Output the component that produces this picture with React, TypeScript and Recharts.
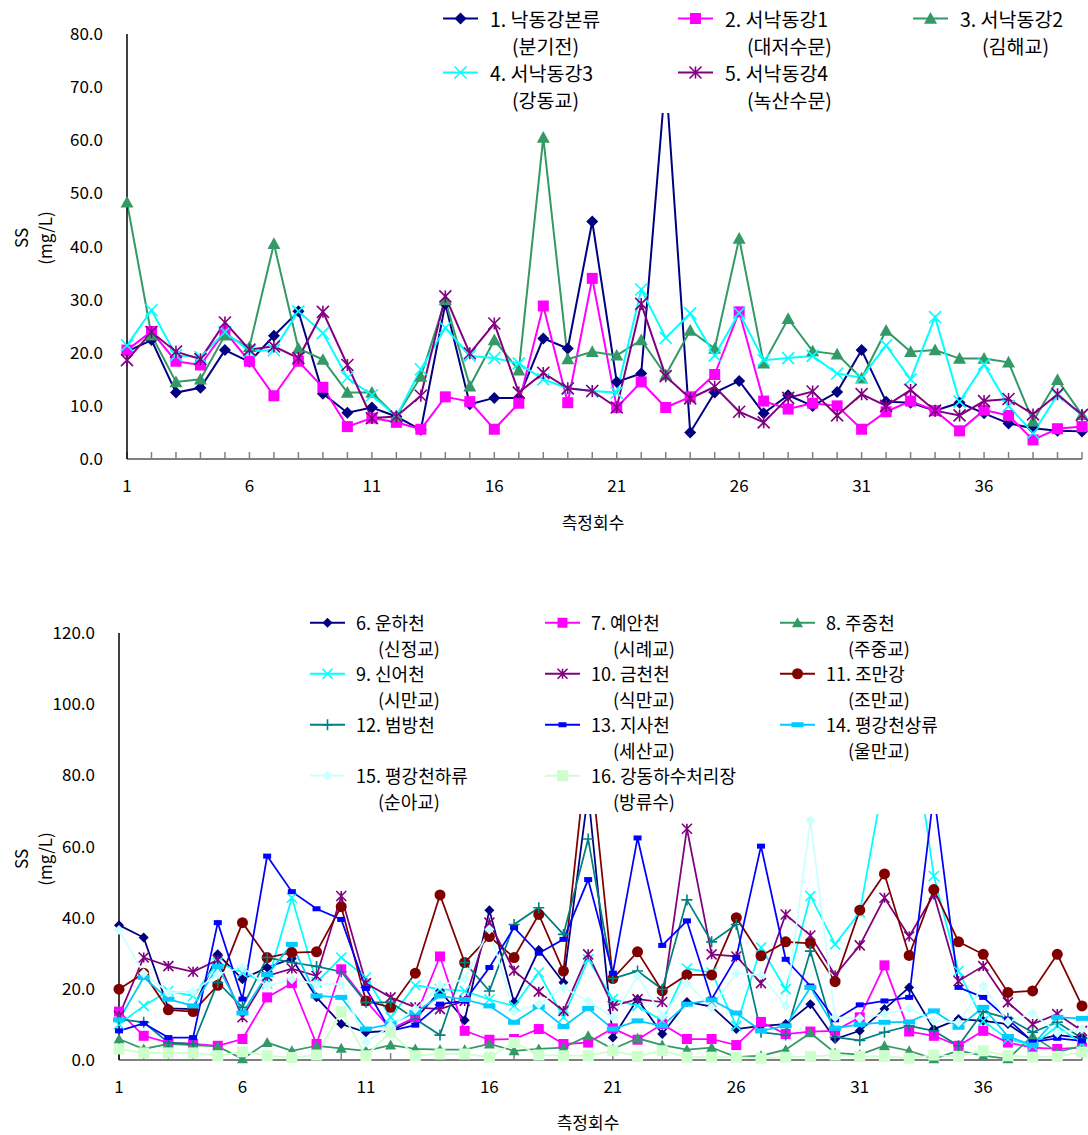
import React from 'react';
import { LineChart, Line, XAxis, YAxis, Legend } from 'recharts';

const FONT = '"Noto Sans CJK KR", "Noto Sans", sans-serif';

// 측정회수 (x categories)
const runs = [
  1, 2, 3, 4, 5, 6, 7, 8, 9, 10, 11, 12, 13, 14, 15, 16, 17, 18, 19, 20,
  21, 22, 23, 24, 25, 26, 27, 28, 29, 30, 31, 32, 33, 34, 35, 36, 37, 38, 39, 40,
];

const topTicks = [0, 10, 20, 30, 40, 50, 60, 70, 80];
const bottomTicks = [0, 20, 40, 60, 80, 100, 120];

// upper panel: 낙동강 / 서낙동강 (SS, mg/L)
const nakdongBongi = [
  20.2, 22.4, 12.5, 13.4, 20.5, 18.3, 23.2, 27.8, 12.3, 8.7,
  9.7, 8.0, 5.5, 29.2, 10.3, 11.5, 11.5, 22.7, 20.8, 44.7,
  14.5, 16.1, 72.0, 5.0, 12.5, 14.7, 8.6, 12.0, 10.0, 12.6,
  20.5, 10.8, 10.6, 9.1, 10.6, 8.6, 6.7, 5.8, 5.3, 5.2,
];
const seonakDaejeo = [
  20.5, 24.0, 18.4, 17.7, 24.0, 18.4, 11.9, 18.4, 13.5, 6.1,
  7.7, 6.9, 5.6, 11.7, 10.8, 5.6, 10.5, 28.8, 10.6, 34.0,
  9.7, 14.5, 9.7, 11.7, 15.9, 27.7, 10.9, 9.4, 10.5, 10.0,
  5.6, 8.9, 10.9, 9.1, 5.3, 9.2, 8.2, 3.6, 5.7, 6.1,
];
const seonakGimhae = [
  48.3, 23.3, 14.5, 15.0, 23.3, 21.1, 40.5, 20.8, 18.7, 12.5,
  12.5, 8.0, 15.5, 29.9, 13.7, 22.4, 16.7, 60.5, 18.8, 20.2,
  19.5, 22.4, 15.8, 24.2, 20.8, 41.5, 18.0, 26.4, 20.3, 19.7,
  15.2, 24.2, 20.2, 20.5, 18.9, 18.9, 18.2, 7.1, 14.9, 8.3,
];
const seonakGangdong = [
  21.4, 28.0, 19.5, 19.2, 23.9, 20.3, 20.5, 27.8, 23.7, 15.3,
  12.0, 8.0, 16.9, 24.7, 19.4, 19.0, 18.0, 15.0, 13.3, 12.8,
  12.5, 31.9, 22.8, 27.4, 19.5, 27.5, 18.6, 19.0, 19.4, 16.1,
  15.3, 21.4, 15.0, 26.7, 10.8, 17.8, 10.0, 4.9, 12.0, 8.3,
];
const seonakNoksan = [
  18.6, 23.9, 20.2, 18.8, 25.7, 20.6, 21.2, 19.0, 27.7, 17.7,
  7.7, 8.0, 11.9, 30.6, 19.9, 25.5, 12.5, 16.2, 13.3, 12.8,
  9.7, 29.2, 15.6, 11.4, 13.6, 8.9, 6.9, 11.5, 12.7, 8.2,
  12.2, 10.0, 13.0, 9.1, 8.2, 10.9, 11.3, 8.4, 12.2, 8.3,
];

// lower panel: 지류 및 처리장 (SS, mg/L)
const unhacheon = [
  37.9, 34.4, 14.5, 14.3, 29.7, 22.7, 26.0, 28.5, 17.6, 10.1,
  7.8, 8.2, 11.5, 19.4, 11.2, 42.1, 16.2, 30.9, 21.8, 75.0,
  6.3, 17.1, 7.3, 16.3, 15.0, 8.7, 9.6, 10.1, 15.7, 5.9,
  8.2, 14.3, 20.4, 8.7, 11.5, 11.0, 10.1, 5.4, 7.0, 6.3,
];
const yeancheon = [
  13.6, 6.8, 4.9, 4.5, 4.0, 5.9, 17.6, 21.6, 4.5, 25.5,
  16.6, 8.7, 12.0, 29.1, 8.2, 5.7, 5.9, 8.7, 4.5, 4.9,
  8.9, 5.7, 10.1, 5.9, 5.9, 4.2, 10.7, 7.3, 8.0, 8.2,
  12.0, 26.6, 8.0, 6.8, 4.0, 8.2, 4.9, 3.5, 3.1, 3.5,
];
const jujungcheon = [
  5.9, 3.1, 4.5, 4.2, 3.8, 0.3, 4.9, 2.6, 4.0, 3.3,
  2.6, 4.2, 3.1, 2.9, 2.9, 4.5, 2.6, 3.1, 3.5, 6.8,
  3.1, 6.1, 4.2, 2.9, 3.5, 0.8, 1.2, 2.9, 7.6, 2.0,
  1.5, 4.0, 2.6, 0.3, 2.6, 1.2, 0.3, 6.8, 2.2, 4.0,
];
const sineocheon = [
  10.0, 15.2, 19.4, 18.0, 27.4, 24.6, 21.5, 45.6, 21.8, 28.8,
  23.2, 12.0, 21.0, 19.9, 19.4, 17.0, 15.2, 24.6, 12.0, 28.3,
  17.1, 15.2, 11.0, 25.7, 24.6, 9.6, 31.6, 19.9, 46.1, 32.5,
  41.5, 80.0, 100.0, 51.7, 25.0, 11.0, 5.9, 4.0, 9.6, 4.5,
];
const geumcheoncheon = [
  12.4, 28.8, 26.4, 24.8, 28.1, 12.0, 23.6, 25.7, 23.6, 46.1,
  21.6, 17.6, 14.8, 14.3, 16.6, 38.6, 25.1, 19.2, 13.8, 29.7,
  15.2, 17.1, 16.3, 65.0, 29.7, 29.1, 21.6, 40.9, 35.0, 23.8,
  32.2, 45.6, 34.7, 46.5, 22.2, 26.4, 16.2, 10.1, 12.9, 8.2,
];
const jomangang = [
  19.9, 24.4, 14.1, 13.6, 21.0, 38.6, 28.8, 30.2, 30.4, 43.1,
  16.6, 14.8, 24.4, 46.4, 27.4, 34.7, 28.8, 40.9, 25.0, 90.0,
  22.9, 30.4, 19.4, 23.9, 23.9, 40.0, 29.3, 33.2, 32.8, 22.0,
  42.1, 52.3, 29.4, 47.9, 33.2, 29.7, 19.0, 19.4, 29.7, 15.2,
];
const beombangcheon = [
  11.5, 10.6, 4.9, 4.5, 21.8, 14.8, 28.8, 27.4, 26.3, 24.8,
  16.2, 16.2, 11.5, 7.0, 27.4, 19.4, 38.1, 42.8, 35.3, 62.1,
  22.9, 25.0, 19.9, 45.0, 33.2, 38.1, 7.8, 7.0, 30.6, 6.4,
  5.5, 7.8, 9.6, 8.2, 4.0, 13.6, 11.7, 7.8, 10.6, 6.1,
];
const jisacheon = [
  8.2, 10.3, 6.3, 6.3, 38.6, 17.1, 57.3, 47.3, 42.5, 39.5,
  20.1, 8.2, 9.8, 15.7, 16.6, 26.0, 37.2, 30.0, 33.9, 50.7,
  24.4, 62.4, 32.2, 39.1, 17.1, 28.8, 60.1, 28.3, 20.8, 11.3,
  15.5, 16.6, 17.6, 75.0, 20.4, 17.6, 11.5, 5.1, 6.1, 5.4,
];
const pyeonggangUpper = [
  11.3, 23.2, 17.1, 15.2, 26.3, 13.2, 24.0, 32.5, 18.0, 17.6,
  8.7, 10.1, 13.4, 18.0, 17.0, 15.2, 10.6, 15.0, 9.4, 14.5,
  8.7, 11.0, 9.6, 15.7, 16.9, 13.2, 8.2, 9.6, 20.4, 8.9,
  10.0, 10.6, 10.7, 13.8, 9.2, 14.8, 6.6, 4.2, 12.0, 11.7,
];
const pyeonggangLower = [
  36.5, 24.4, 19.0, 19.2, 24.1, 26.0, 20.8, 22.7, 21.3, 21.3,
  4.9, 9.6, 14.3, 21.0, 22.7, 36.7, 13.6, 15.7, 20.4, 16.6,
  12.0, 23.6, 12.4, 21.6, 14.8, 24.4, 23.8, 15.2, 67.3, 12.0,
  11.7, 12.9, 14.5, 11.0, 10.6, 20.8, 10.7, 13.2, 7.6, 8.7,
];
const gangdongSewage = [
  3.1, 2.0, 2.0, 2.0, 1.2, 2.3, 1.2, 0.7, 1.4, 13.6,
  1.2, 7.8, 1.2, 1.7, 1.7, 0.8, 4.9, 1.4, 1.2, 1.2,
  2.6, 1.0, 2.6, 0.8, 0.8, 0.8, 0.5, 0.8, 1.0, 1.4,
  1.0, 1.0, 0.5, 1.4, 1.0, 2.6, 1.2, 0.8, 1.0, 2.2,
];

type Shape = 'diamond' | 'square' | 'triangle' | 'cross' | 'star' | 'circle' | 'plus' | 'bar';

interface SeriesDef {
  key: string;
  name: string;
  sub?: string;
  color: string;
  shape: Shape;
  size: number;
  data: number[];
}

const topSeries: SeriesDef[] = [
  { key: 's1', name: '1. 낙동강본류', sub: '(분기전)', color: '#000080', shape: 'diamond', size: 6, data: nakdongBongi },
  { key: 's2', name: '2. 서낙동강1', sub: '(대저수문)', color: '#FF00FF', shape: 'square', size: 5.5, data: seonakDaejeo },
  { key: 's3', name: '3. 서낙동강2', sub: '(김해교)', color: '#339966', shape: 'triangle', size: 6.5, data: seonakGimhae },
  { key: 's4', name: '4. 서낙동강3', sub: '(강동교)', color: '#00FFFF', shape: 'cross', size: 6, data: seonakGangdong },
  { key: 's5', name: '5. 서낙동강4', sub: '(녹산수문)', color: '#800080', shape: 'star', size: 6, data: seonakNoksan },
];

const bottomSeries: SeriesDef[] = [
  { key: 's6', name: '6. 운하천', sub: '(신정교)', color: '#000080', shape: 'diamond', size: 5, data: unhacheon },
  { key: 's7', name: '7. 예안천', sub: '(시례교)', color: '#FF00FF', shape: 'square', size: 5, data: yeancheon },
  { key: 's8', name: '8. 주중천', sub: '(주중교)', color: '#339966', shape: 'triangle', size: 5.5, data: jujungcheon },
  { key: 's9', name: '9. 신어천', sub: '(시만교)', color: '#00FFFF', shape: 'cross', size: 5, data: sineocheon },
  { key: 's10', name: '10. 금천천', sub: '(식만교)', color: '#800080', shape: 'star', size: 5, data: geumcheoncheon },
  { key: 's11', name: '11. 조만강', sub: '(조만교)', color: '#800000', shape: 'circle', size: 5.5, data: jomangang },
  { key: 's12', name: '12. 범방천', color: '#008080', shape: 'plus', size: 5.5, data: beombangcheon },
  { key: 's13', name: '13. 지사천', sub: '(세산교)', color: '#0000FF', shape: 'bar', size: 4, data: jisacheon },
  { key: 's14', name: '14. 평강천상류', sub: '(울만교)', color: '#00CCFF', shape: 'bar', size: 6, data: pyeonggangUpper },
  { key: 's15', name: '15. 평강천하류', sub: '(순아교)', color: '#CCFFFF', shape: 'diamond', size: 5, data: pyeonggangLower },
  { key: 's16', name: '16. 강동하수처리장', sub: '(방류수)', color: '#CCFFCC', shape: 'square', size: 5.5, data: gangdongSewage },
];

function marker(shape: Shape, color: string, x: number, y: number, s: number, key?: React.Key) {
  switch (shape) {
    case 'diamond':
      return <polygon key={key} points={`${x},${y - s} ${x + s},${y} ${x},${y + s} ${x - s},${y}`} fill={color} />;
    case 'square':
      return <rect key={key} x={x - s} y={y - s} width={2 * s} height={2 * s} fill={color} />;
    case 'triangle':
      return <polygon key={key} points={`${x},${y - s} ${x + s},${y + s * 0.8} ${x - s},${y + s * 0.8}`} fill={color} />;
    case 'cross':
      return (
        <path key={key} d={`M${x - s},${y - s}L${x + s},${y + s}M${x - s},${y + s}L${x + s},${y - s}`}
          stroke={color} strokeWidth={1.6} fill="none" />
      );
    case 'star':
      return (
        <path key={key}
          d={`M${x - s},${y - s}L${x + s},${y + s}M${x - s},${y + s}L${x + s},${y - s}M${x},${y - s}L${x},${y + s}`}
          stroke={color} strokeWidth={1.6} fill="none" />
      );
    case 'circle':
      return <circle key={key} cx={x} cy={y} r={s} fill={color} />;
    case 'plus':
      return (
        <path key={key} d={`M${x - s},${y}L${x + s},${y}M${x},${y - s}L${x},${y + s}`}
          stroke={color} strokeWidth={1.6} fill="none" />
      );
    case 'bar':
      return <rect key={key} x={x - s} y={y - 2.5} width={2 * s} height={5} fill={color} />;
  }
}

function LegendBox({ items, iconW, lineH, indent, fontSize }: {
  items: SeriesDef[]; iconW: number; lineH: number; indent: number; fontSize: number;
}) {
  return (
    <div
      style={{
        display: 'grid',
        gridTemplateColumns: 'repeat(3, 235px)',
        background: '#fff',
        fontFamily: FONT,
        fontSize,
        lineHeight: `${lineH}px`,
        color: '#000',
      }}
    >
      {items.map((s) => (
        <div key={s.key} style={{ display: 'flex', height: lineH * 2 }}>
          <svg width={iconW} height={lineH} style={{ flex: 'none' }}>
            <line x1={0} x2={35} y1={lineH / 2} y2={lineH / 2} stroke={s.color} strokeWidth={2} />
            {marker(s.shape, s.color, 17.5, lineH / 2, s.size)}
          </svg>
          <div style={{ whiteSpace: 'nowrap' }}>
            <div>{s.name}</div>
            {s.sub && <div style={{ paddingLeft: indent }}>{s.sub}</div>}
          </div>
        </div>
      ))}
    </div>
  );
}

interface PanelProps {
  series: SeriesDef[];
  height: number;
  plotTop: number;
  axisX: number;
  xAxisHeight: number;
  yMax: number;
  yTicks: number[];
  titleX: number;
  titleY: number;
  yLabelY: number;
  legendTop: number;
  legendLeft: number;
  legendFont: number;
  iconW: number;
  lineH: number;
  lineWidth: number;
}

function SSPanel(p: PanelProps) {
  const rows = runs.map((n, i) => {
    const r: Record<string, number> = { n };
    p.series.forEach((s) => {
      r[s.key] = s.data[i];
    });
    return r;
  });

  const xTick = (t: any) => {
    if ((t.payload.value - 1) % 5 !== 0) return <g />;
    return (
      <text x={t.x} y={t.y} dy={13} textAnchor="middle" fontSize={17} fill="#000" fontFamily={FONT}>
        {t.payload.value}
      </text>
    );
  };

  return (
    <LineChart
      width={1088}
      height={p.height}
      data={rows}
      margin={{ top: p.plotTop, right: 6, bottom: 0, left: 0 }}
    >
      <XAxis
        dataKey="n"
        interval={0}
        tickSize={-7}
        tickMargin={27}
        tick={xTick}
        height={p.xAxisHeight}
        axisLine={{ stroke: '#808080', strokeWidth: 2 }}
        tickLine={{ stroke: '#808080', strokeWidth: 1.5 }}
        label={() => (
          <text x={p.titleX} y={p.titleY} textAnchor="middle" fontSize={17} fill="#000" fontFamily={FONT}>
            측정회수
          </text>
        )}
      />
      <YAxis
        type="number"
        domain={[0, p.yMax]}
        ticks={p.yTicks}
        width={p.axisX}
        tickLine={false}
        tickMargin={18}
        tickFormatter={(v: number) => v.toFixed(1)}
        tick={{ fill: '#000', fontSize: 17, fontFamily: FONT }}
        axisLine={{ stroke: '#000', strokeWidth: 1.5 }}
        label={() => (
          <g fontFamily={FONT} fontSize={17} fill="#000">
            <text transform={`translate(20, ${p.yLabelY}) rotate(-90)`} textAnchor="middle" dominantBaseline="central">
              SS
            </text>
            <text transform={`translate(44, ${p.yLabelY}) rotate(-90)`} textAnchor="middle" dominantBaseline="central">
              (mg/L)
            </text>
          </g>
        )}
      />
      {p.series.map((s) => (
        <Line
          key={s.key}
          dataKey={s.key}
          stroke={s.color}
          strokeWidth={p.lineWidth}
          isAnimationActive={false}
          activeDot={false}
          dot={(d: any) => marker(s.shape, s.color, d.cx, d.cy, s.size, `${s.key}-${d.index}`)}
        />
      ))}
      <Legend
        layout="horizontal"
        verticalAlign="middle"
        align="center"
        wrapperStyle={{ top: p.legendTop, left: p.legendLeft, width: 1088 - p.legendLeft, height: 'auto', background: '#fff' }}
        content={() => (
          <LegendBox items={p.series} iconW={p.iconW} lineH={p.lineH} indent={22} fontSize={p.legendFont} />
        )}
      />
    </LineChart>
  );
}

export default function App() {
  return (
    <div style={{ position: 'absolute', left: 0, top: 0, width: 1088, height: 1135, background: '#fff' }}>
      <div style={{ position: 'absolute', left: 0, top: 0 }}>
        <SSPanel
          series={topSeries}
          height={545}
          plotTop={34}
          axisX={127}
          xAxisHeight={86}
          yMax={80}
          yTicks={topTicks}
          titleX={593}
          titleY={529}
          yLabelY={238}
          legendTop={5}
          legendLeft={443}
          legendFont={19.5}
          iconW={47}
          lineH={27}
          lineWidth={2}
        />
      </div>
      <div style={{ position: 'absolute', left: 0, top: 590 }}>
        <SSPanel
          series={bottomSeries}
          height={545}
          plotTop={43}
          axisX={119}
          xAxisHeight={75}
          yMax={120}
          yTicks={bottomTicks}
          titleX={588}
          titleY={539}
          yLabelY={269}
          legendTop={20}
          legendLeft={310}
          legendFont={18}
          iconW={46}
          lineH={25.5}
          lineWidth={1.75}
        />
      </div>
    </div>
  );
}
